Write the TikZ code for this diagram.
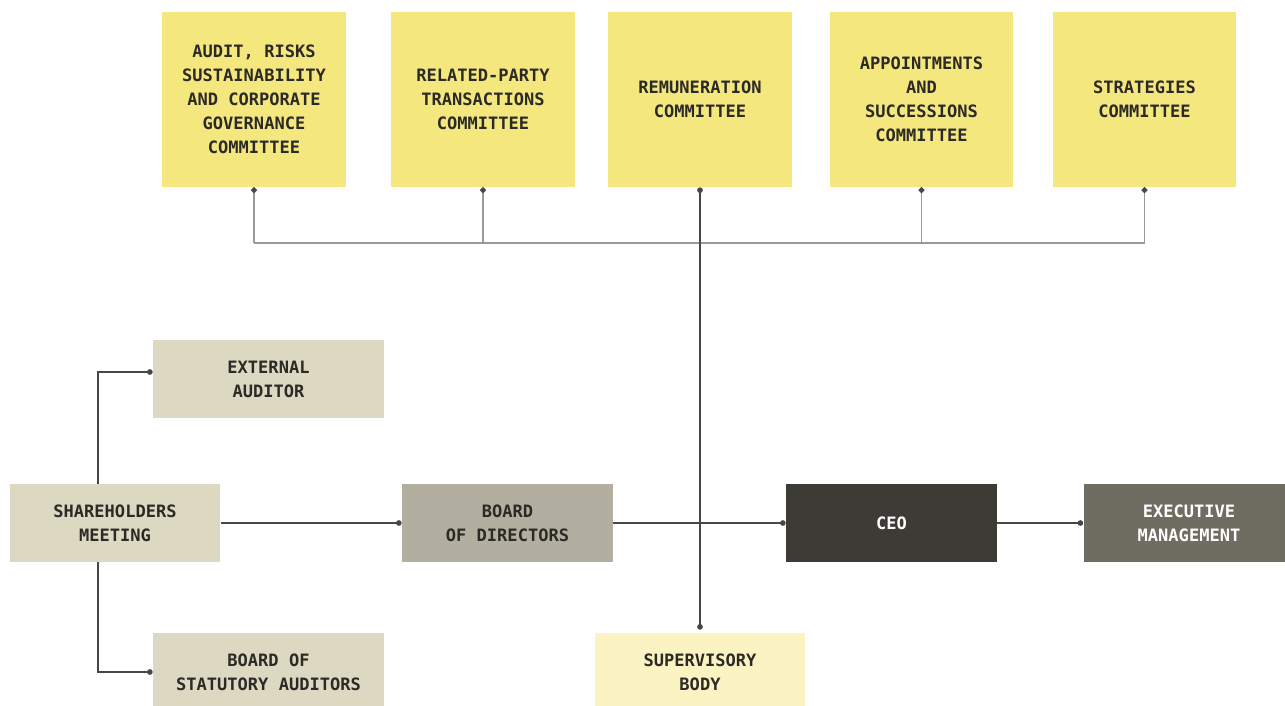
\documentclass[tikz,border=0pt]{standalone}
\usepackage{fontspec}
\setmonofont{DejaVu Sans Mono}
\usetikzlibrary{positioning,calc,arrows.meta}

\definecolor{commyellow}{HTML}{F4E77E}
\definecolor{paleyellow}{HTML}{FBF4C2}
\definecolor{beige}{HTML}{DDD8C2}
\definecolor{boardgrey}{HTML}{B2AFA0}
\definecolor{ceodark}{HTML}{3D3B35}
\definecolor{mgmtgrey}{HTML}{6F6D61}
\definecolor{linedark}{HTML}{474747}
\definecolor{linegrey}{HTML}{999999}
\definecolor{textdark}{HTML}{2B2A26}

\begin{document}
\begin{tikzpicture}[
    x=0.02cm, y=-0.02cm,
    box_style/.style={inner sep=0pt, align=center, text=textdark,
        font=\ttfamily\bfseries\fontsize{9.7}{13.6}\selectfont},
    comm_style/.style={box_style, fill=commyellow, minimum width=3.68cm, minimum height=3.5cm},
    mid_style/.style={box_style, minimum width=4.22cm, minimum height=1.56cm},
    side_style/.style={box_style, fill=beige, minimum width=4.62cm, minimum height=1.56cm},
    link_line/.style={linedark, line width=0.7pt, -{Circle[length=3.2pt]}},
    bus_line/.style={linegrey, line width=1pt}
]

    \useasboundingbox (0,0) rectangle (1285,706);

    % --- Committees (top row) ---
    \node[comm_style] (comm1) at (254,99.5) {AUDIT, RISKS\\SUSTAINABILITY\\AND CORPORATE\\GOVERNANCE\\COMMITTEE};
    \node[comm_style] (comm2) at (483,99.5) {RELATED-PARTY\\TRANSACTIONS\\COMMITTEE};
    \node[comm_style] (comm3) at (700,99.5) {REMUNERATION\\COMMITTEE};
    \node[comm_style] (comm4) at (921.5,99.5) {APPOINTMENTS\\AND\\SUCCESSIONS\\COMMITTEE};
    \node[comm_style] (comm5) at (1144.5,99.5) {STRATEGIES\\COMMITTEE};

    % --- Main row ---
    \node[mid_style, fill=beige] (share) at (115,523) {SHAREHOLDERS\\MEETING};
    \node[mid_style, fill=boardgrey] (board) at (507.5,523) {BOARD\\OF DIRECTORS};
    \node[mid_style, fill=ceodark, text=white] (ceo) at (891.5,523) {CEO};
    \node[mid_style, fill=mgmtgrey, text=white] (mgmt) at (1189,523) {EXECUTIVE\\MANAGEMENT};

    % --- Side bodies ---
    \node[side_style] (ext) at (268.5,379) {EXTERNAL\\AUDITOR};
    \node[side_style] (stat) at (268.5,672) {BOARD OF\\STATUTORY AUDITORS};
    \node[mid_style, fill=paleyellow] (super) at (700,672) {SUPERVISORY\\BODY};

    % --- Committee bus ---
    \coordinate (bus) at (0,243);
    \draw[bus_line] (comm1.south |- bus) -- (comm5.south |- bus);
    \foreach \c in {comm1,comm2,comm4,comm5}
        \draw[bus_line, {Circle[length=3.2pt, color=linedark]}-] (\c.south) -- (\c.south |- bus);
    \draw[link_line, {Circle[length=3.2pt]}-{Circle[length=3.2pt]}] (comm3.south) -- ($(super.north)+(0,-3)$);

    % --- Links ---
    \draw[link_line] ($(share.north)+(-17,0)$) |- ($(ext.west)+(0,-7)$);
    \draw[link_line] ($(share.south)+(-17,0)$) |- (stat.west);
    \draw[link_line] (share.east) -- (board.west);
    \draw[link_line] (board.east) -- (ceo.west);
    \draw[link_line] (ceo.east) -- (mgmt.west);

\end{tikzpicture}
\end{document}
